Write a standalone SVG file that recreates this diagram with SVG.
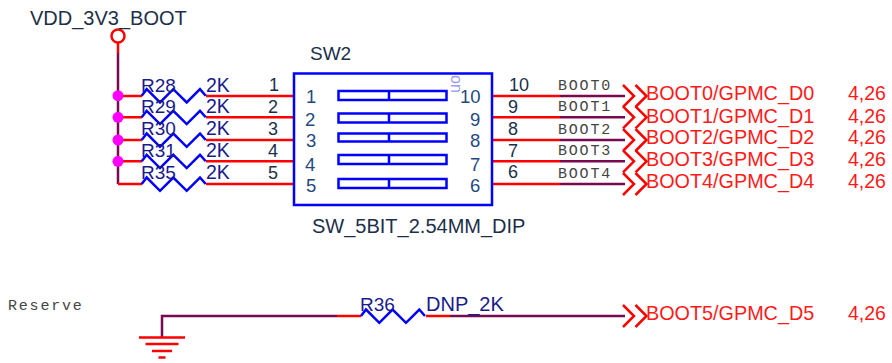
<svg xmlns="http://www.w3.org/2000/svg" width="892" height="363" viewBox="0 0 892 363">
<style>
text{font-family:"Liberation Sans",Arial,sans-serif;font-size:18px;fill:#1c2f4a}
.ref{fill:#1a1a8c;font-size:19px}
.val{fill:#1a1a8c;font-size:19.500px}
.net{font-family:"Liberation Mono","Courier New",monospace;font-size:15px;letter-spacing:1.800px;fill:#444}
.off{fill:#ff1a1a;font-size:19.800px}
.pg{fill:#ff1a1a;font-size:19.500px}
.pin{fill:#1f4a80;font-size:18.500px}
.red{fill:none;stroke:#f00;stroke-width:2.500}
.pur{fill:none;stroke:#7a0a50;stroke-width:2.500}
.blu{fill:none;stroke:#00f;stroke-width:2.500}
.dot{fill:#f0f}
</style>
<defs>
<path id="zig" class="blu" d="M0 0L5 -6.500L18.300 6.800L31.600 -6.500L45 6.800L58.300 -6.500L64 0"/>
<path id="chev" class="red" d="M0 -11L11 0L0 11M12.500 -11L23.500 0L12.500 11"/>
</defs>
<g id="connectors">
<path class="red" d="M118 42V53"/>
<path class="pur" d="M118 53V184"/>
<path class="red" d="M118 96H142M206 96H294M118 117.300H142M206 117.300H294M118 140H142M206 140H294M118 161.300H142M206 161.300H294M118 184H142M206 184H294"/>
<path class="red" d="M492 96H560M492 117.300H560M492 140H560M492 161.300H560M492 184H560"/>
<path class="pur" d="M560 96H625M560 117.300H625M560 140H625M560 161.300H625M560 184H625"/>
<path class="pur" d="M162 337V316H337"/>
<path class="red" d="M337 316H361M426 316H450"/>
<path class="pur" d="M450 316H625"/>
</g>
<g id="vdd">
<circle cx="118" cy="36" r="6.500" class="red"/>
<text x="30" y="25" style="font-size:20px">VDD_3V3_BOOT</text>
<circle class="dot" cx="118" cy="95.700" r="5.500"/>
<circle class="dot" cx="118" cy="117.300" r="5.500"/>
<circle class="dot" cx="118" cy="140" r="5.500"/>
<circle class="dot" cx="118" cy="161.300" r="5.500"/>
</g>
<g id="R28"><use href="#zig" x="141.700" y="95.700"/><text class="ref" x="141" y="92">R28</text><text class="val" x="206" y="92">2K</text><text x="269" y="91">1</text></g>
<g id="R29"><use href="#zig" x="141.700" y="117.300"/><text class="ref" x="141" y="113">R29</text><text class="val" x="206" y="113">2K</text><text x="268" y="113">2</text></g>
<g id="R30"><use href="#zig" x="141.700" y="140"/><text class="ref" x="141" y="135">R30</text><text class="val" x="206" y="135">2K</text><text x="268" y="135">3</text></g>
<g id="R31"><use href="#zig" x="141.700" y="161.300"/><text class="ref" x="141" y="157">R31</text><text class="val" x="206" y="157">2K</text><text x="268" y="157">4</text></g>
<g id="R35"><use href="#zig" x="141.700" y="184"/><text class="ref" x="141" y="179">R35</text><text class="val" x="206" y="179">2K</text><text x="268" y="179">5</text></g>
<g id="SW2">
<rect class="blu" x="294" y="73.500" width="198" height="131.500"/>
<rect class="blu" x="338.500" y="91" width="108" height="9"/>
<rect class="blu" x="338.500" y="113.500" width="108" height="9"/>
<rect class="blu" x="338.500" y="133.500" width="108" height="8"/>
<rect class="blu" x="338.500" y="155" width="108" height="9"/>
<rect class="blu" x="338.500" y="179" width="108" height="9"/>
<path class="blu" d="M389 91V100M389 113.500V122.500M389 133.500V141.500M389 155V164M389 179V188"/>
<text x="310" y="60" style="font-size:19px">SW2</text>
<text x="312" y="233" style="font-size:20px">SW_5BIT_2.54MM_DIP</text>
<text transform="translate(451 75) rotate(90)" style="font-size:16px;fill:#9a9af0">on</text>
<text class="pin" x="306" y="103">1</text><text class="pin" x="305" y="126">2</text><text class="pin" x="306" y="147">3</text><text class="pin" x="305" y="171">4</text><text class="pin" x="306" y="192">5</text>
<text class="pin" x="460" y="103">10</text><text class="pin" x="470" y="126">9</text><text class="pin" x="470" y="147">8</text><text class="pin" x="470" y="171">7</text><text class="pin" x="470" y="192">6</text>
<text x="509" y="91">10</text><text x="508" y="113">9</text><text x="508" y="135">8</text><text x="508" y="157">7</text><text x="508" y="178">6</text>
</g>
<g id="BOOT0"><text class="net" x="558" y="90">BOOT0</text><use href="#chev" x="623" y="96"/><text class="off" x="646" y="100">BOOT0/GPMC_D0</text><text class="pg" x="848" y="100">4,26</text></g>
<g id="BOOT1"><text class="net" x="558" y="111">BOOT1</text><use href="#chev" x="623" y="117.300"/><text class="off" x="646" y="123">BOOT1/GPMC_D1</text><text class="pg" x="848" y="123">4,26</text></g>
<g id="BOOT2"><text class="net" x="558" y="134">BOOT2</text><use href="#chev" x="623" y="140"/><text class="off" x="646" y="144">BOOT2/GPMC_D2</text><text class="pg" x="848" y="144">4,26</text></g>
<g id="BOOT3"><text class="net" x="558" y="155">BOOT3</text><use href="#chev" x="623" y="161.300"/><text class="off" x="646" y="166">BOOT3/GPMC_D3</text><text class="pg" x="848" y="166">4,26</text></g>
<g id="BOOT4"><text class="net" x="558" y="178">BOOT4</text><use href="#chev" x="623" y="184"/><text class="off" x="646" y="188">BOOT4/GPMC_D4</text><text class="pg" x="848" y="188">4,26</text></g>
<g id="Reserve"><text class="net" x="8" y="310">Reserve</text></g>
<g id="GND"><path class="red" d="M139 337.500H185M145.500 344H178.500M152 351H172M158.500 357.500H165.500"/></g>
<g id="R36"><use href="#zig" x="361" y="316"/><text class="ref" x="360" y="311">R36</text><text class="val" x="426" y="311" style="font-size:20px">DNP_2K</text></g>
<g id="BOOT5"><use href="#chev" x="623" y="316"/><text class="off" x="646" y="320">BOOT5/GPMC_D5</text><text class="pg" x="848" y="320">4,26</text></g>
</svg>
